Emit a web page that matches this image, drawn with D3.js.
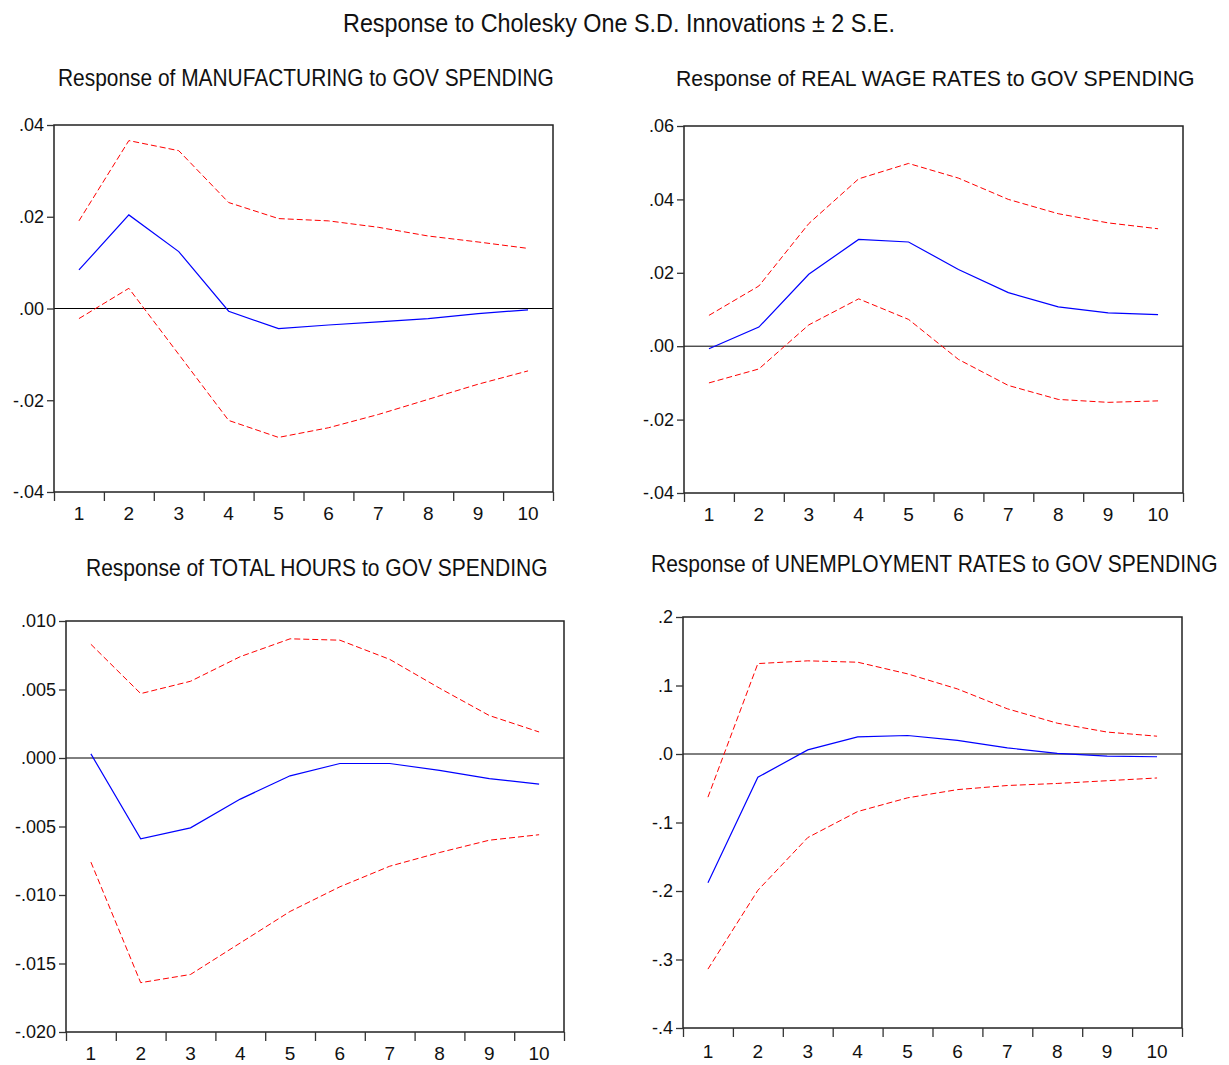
<!DOCTYPE html>
<html>
<head>
<meta charset="utf-8">
<script src="https://cdn.jsdelivr.net/npm/d3@7"></script>
<style>
  body { margin: 0; background: #fff; }
  svg text { font-family: "Liberation Sans", Arial, sans-serif; fill: #111; }
</style>
</head>
<body>
<div id="chart"></div>
<script>
// periods after the shock
var periods = [1, 2, 3, 4, 5, 6, 7, 8, 9, 10];

// manufacturing
var mfgResp  = [0.0084, 0.0204, 0.0124, -0.0006, -0.0044, -0.0036, -0.0029, -0.0022, -0.0011, -0.0003];
var mfgUpper = [0.0191, 0.0366, 0.0344, 0.0231, 0.0196, 0.0191, 0.0177, 0.0158, 0.0145, 0.0131];
var mfgLower = [-0.0022, 0.0044, -0.0100, -0.0244, -0.0281, -0.0260, -0.0231, -0.0198, -0.0165, -0.0136];
var mfgTicks = [-0.04, -0.02, 0, 0.02, 0.04];

// real wage rates
var wageResp  = [-0.0007, 0.0052, 0.0196, 0.0291, 0.0284, 0.0209, 0.0146, 0.0107, 0.0091, 0.0086];
var wageUpper = [0.0084, 0.0164, 0.0334, 0.0456, 0.0498, 0.0458, 0.0400, 0.0361, 0.0336, 0.0320];
var wageLower = [-0.0100, -0.0062, 0.0058, 0.0129, 0.0073, -0.0036, -0.0107, -0.0145, -0.0153, -0.0149];
var wageTicks = [-0.04, -0.02, 0, 0.02, 0.04, 0.06];

// total hours
var hoursResp  = [0.0003, -0.0059, -0.0051, -0.0030, -0.0013, -0.0004, -0.0004, -0.0009, -0.0015, -0.0019];
var hoursUpper = [0.0083, 0.0047, 0.0056, 0.0074, 0.0087, 0.0086, 0.0072, 0.0051, 0.0031, 0.0019];
var hoursLower = [-0.0076, -0.0164, -0.0158, -0.0135, -0.0112, -0.0094, -0.0079, -0.0069, -0.0060, -0.0056];
var hoursTicks = [-0.020, -0.015, -0.010, -0.005, 0, 0.005, 0.010];

// unemployment rates
var unempResp  = [-0.188, -0.034, 0.006, 0.025, 0.027, 0.020, 0.009, 0.001, -0.003, -0.004];
var unempUpper = [-0.063, 0.132, 0.136, 0.134, 0.117, 0.095, 0.066, 0.045, 0.032, 0.026];
var unempLower = [-0.314, -0.199, -0.122, -0.084, -0.064, -0.052, -0.046, -0.043, -0.039, -0.035];
var unempTicks = [-0.4, -0.3, -0.2, -0.1, 0, 0.1, 0.2];

var W = 1229, H = 1065;

var svg = d3.select("#chart")
  .append("svg")
  .attr("width", W)
  .attr("height", H);

// condensed look: draw at normal width, then squeeze to the wanted width
var narrowText = function(str, x0, y0, width, size) {
  var t = svg.append("text")
    .style("font-size", size + "px")
    .text(str);
  var sx = width / t.node().getComputedTextLength();
  t.attr("transform", "translate(" + x0 + "," + y0 + ") scale(" + sx + ",1)");
  return t;
}

narrowText("Response to Cholesky One S.D. Innovations \u00b1 2 S.E.", 343, 32, 552, 26);

var panels = [
  {title: "Response of MANUFACTURING to GOV SPENDING", tx: 58, tw: 496, ty: 86,
   left: 54, right: 553, top: 125, bottom: 492, labY: 520,
   resp: mfgResp, upper: mfgUpper, lower: mfgLower, ticks: mfgTicks, dec: 2},
  {title: "Response of REAL WAGE RATES to GOV SPENDING", tx: 676, tw: 519, ty: 86,
   left: 684, right: 1183, top: 126, bottom: 493, labY: 521,
   resp: wageResp, upper: wageUpper, lower: wageLower, ticks: wageTicks, dec: 2},
  {title: "Response of TOTAL HOURS to GOV SPENDING", tx: 86, tw: 462, ty: 576,
   left: 66, right: 564, top: 621, bottom: 1032, labY: 1060,
   resp: hoursResp, upper: hoursUpper, lower: hoursLower, ticks: hoursTicks, dec: 3},
  {title: "Response of UNEMPLOYMENT RATES to GOV SPENDING", tx: 651, tw: 567, ty: 572,
   left: 683, right: 1182, top: 617, bottom: 1028, labY: 1058,
   resp: unempResp, upper: unempUpper, lower: unempLower, ticks: unempTicks, dec: 1}
];

panels.forEach(function(p) {
  var x = d3.scaleLinear().domain([0.5, 10.5]).range([p.left, p.right]);
  var y = d3.scaleLinear()
    .domain([d3.min(p.ticks), d3.max(p.ticks)])
    .range([p.bottom, p.top]);

  narrowText(p.title, p.tx, p.ty, p.tw, 23);

  // zero line
  svg.append("line")
    .attr("x1", p.left).attr("x2", p.right)
    .attr("y1", y(0)).attr("y2", y(0))
    .attr("stroke", "#000")
    .attr("stroke-width", 1);

  var line = d3.line()
    .x(function(d, i) { return x(periods[i]); })
    .y(function(d) { return y(d); });

  [p.upper, p.lower].forEach(function(band) {
    svg.append("path")
      .datum(band)
      .attr("d", line)
      .attr("fill", "none")
      .attr("stroke", "#ff0000")
      .attr("stroke-width", 1)
      .attr("stroke-dasharray", "6,3");
  });

  svg.append("path")
    .datum(p.resp)
    .attr("d", line)
    .attr("fill", "none")
    .attr("stroke", "#0000ff")
    .attr("stroke-width", 1.2);

  // frame
  svg.append("rect")
    .attr("x", p.left).attr("y", p.top)
    .attr("width", p.right - p.left)
    .attr("height", p.bottom - p.top)
    .attr("fill", "none")
    .attr("stroke", "#222")
    .attr("stroke-width", 1.5);

  // y axis, labels like ".04" and "-.02"
  var fmt = d3.format("." + p.dec + "f");
  var yAxis = d3.axisLeft(y)
    .tickValues(p.ticks)
    .tickSize(7)
    .tickPadding(3)
    .tickFormat(function(d) { return fmt(d).replace("\u2212", "-").replace("0.", "."); });

  var gy = svg.append("g")
    .attr("transform", "translate(" + p.left + ",0)")
    .call(yAxis);
  gy.select(".domain").remove();
  gy.selectAll("line").attr("stroke", "#333").attr("stroke-width", 1.3);
  gy.selectAll("text").style("font-size", "18px").attr("fill", "#111");

  // x axis: ticks between periods, labels in the middle
  var bounds = d3.range(0.5, 11, 1);
  var gx = svg.append("g")
    .attr("transform", "translate(0," + p.bottom + ")")
    .call(d3.axisBottom(x).tickValues(bounds).tickSize(9).tickFormat(""));
  gx.select(".domain").remove();
  gx.selectAll("line").attr("stroke", "#333").attr("stroke-width", 1.3);

  svg.selectAll(null)
    .data(periods)
    .enter().append("text")
    .attr("x", function(d) { return x(d); })
    .attr("y", p.labY)
    .attr("text-anchor", "middle")
    .style("font-size", "19px")
    .text(function(d) { return d; });
});
</script>
</body>
</html>
